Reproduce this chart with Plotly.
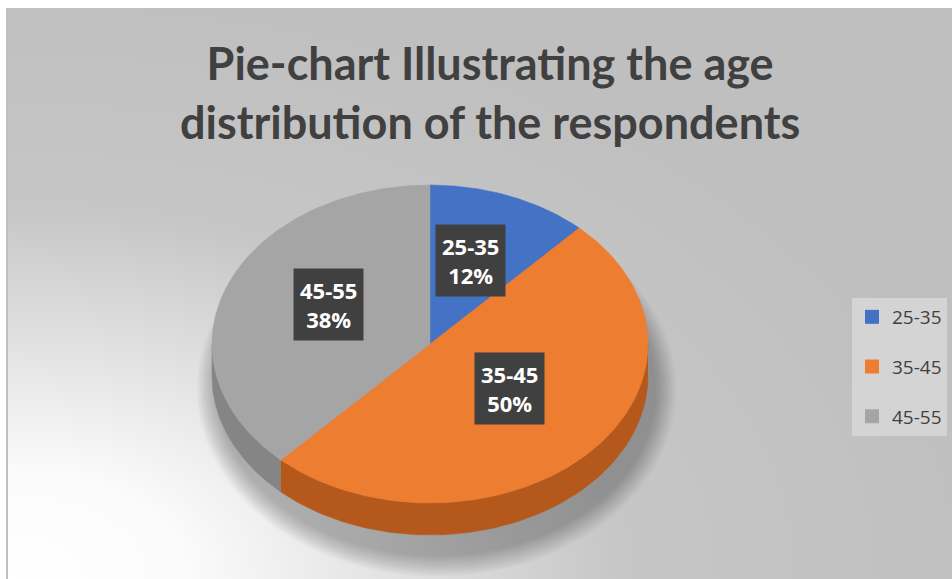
import numpy as np
import plotly.graph_objects as go
import base64

# ---- data ----
labels = ["25-35", "35-45", "45-55"]
values = [12, 50, 38]
colors = ["#4472c4", "#ed7d31", "#a5a5a5"]
side_colors = ["#2f5597", "#b5581c", "#858585"]
title_text = "Pie-chart Illustrating the age<br>distribution of the respondents"

# ---- geometry (style constants) ----
W, H = 952, 579
CX_PX, CY_PX, RX_PX = 430, 344, 218
RY = 159 / 218          # ellipse flattening (units of rx)
DEPTH = 32 / 218        # side thickness

x_range = [-CX_PX / RX_PX, (W - CX_PX) / RX_PX]
y_range = [(CY_PX - H) / RX_PX, CY_PX / RX_PX]

def ex(t):
    return np.sin(np.radians(t))

def ey(t):
    return RY * np.cos(np.radians(t))

fracs = np.array(values, dtype=float) / np.sum(values)
ends = np.cumsum(fracs) * 360
starts = ends - fracs * 360

fig = go.Figure()

# soft shadow under the pie
n_sh = 14
for k in range(n_sh):
    g = 1 - k / n_sh
    sx = 1.0 + 0.10 * g
    sy = 0.76 + 0.10 * g
    tt = np.linspace(0, 360, 200)
    fig.add_trace(go.Scatter(
        x=sx * ex(tt) + 0.03, y=(sy / RY) * ey(tt) - DEPTH - 0.06,
        fill="toself", mode="lines", line=dict(width=0),
        fillcolor="rgba(0,0,0,0.018)", hoverinfo="skip", showlegend=False))

# sides (visible front half: t in [90, 270])
for lab, s, e, sc in zip(labels, starts, ends, side_colors):
    a0, a1 = max(s, 90), min(e, 270)
    if a1 <= a0:
        continue
    tt = np.linspace(a0, a1, 120)
    xs = np.concatenate([ex(tt), ex(tt[::-1])])
    ys = np.concatenate([ey(tt), ey(tt[::-1]) - DEPTH])
    fig.add_trace(go.Scatter(x=xs, y=ys, fill="toself", mode="lines",
                             line=dict(width=0.5, color=sc), fillcolor=sc,
                             hoverinfo="skip", showlegend=False))

# top faces
for lab, v, s, e, c in zip(labels, values, starts, ends, colors):
    tt = np.linspace(s, e, 150)
    xs = np.concatenate([[0], ex(tt), [0]])
    ys = np.concatenate([[0], ey(tt), [0]])
    fig.add_trace(go.Scatter(x=xs, y=ys, fill="toself", mode="lines",
                             line=dict(width=0.5, color=c), fillcolor=c,
                             name=lab, hoverinfo="text",
                             text=f"{lab}: {v}%", showlegend=False))

# legend entries
for lab, c in zip(labels, colors):
    fig.add_trace(go.Scatter(x=[None], y=[None], mode="markers", name=lab,
                             legendgroup=lab,
                             marker=dict(symbol="square", size=14, color=c)))

# data labels
for lab, v, s, e in zip(labels, values, starts, ends):
    m = (s + e) / 2
    fig.add_annotation(x=0.5 * ex(m), y=0.5 * ey(m), yshift=10,
                       text=f"<b>{lab}<br>{v}%</b>", showarrow=False,
                       font=dict(family="Open Sans", size=22, color="white"),
                       bgcolor="#404040", borderpad=6, align="center")

# title
fig.add_annotation(xref="paper", yref="paper", x=490 / W, y=1 - 34 / H,
                   xanchor="center", yanchor="top", showarrow=False,
                   text=f"<b>{title_text}</b>", align="center",
                   font=dict(family="Lato", size=45, color="#404040"))

# gradient background image
svg = f'''<svg xmlns="http://www.w3.org/2000/svg" width="{W}" height="{H}">
<defs><radialGradient id="g" cx="0" cy="1" r="1.05" gradientUnits="objectBoundingBox">
<stop offset="0" stop-color="#ffffff"/><stop offset="0.18" stop-color="#fbfbfb"/>
<stop offset="0.62" stop-color="#c6c6c6"/><stop offset="1" stop-color="#bfbfbf"/>
</radialGradient></defs>
<rect width="100%" height="100%" fill="url(#g)"/></svg>'''
src = "data:image/svg+xml;base64," + base64.b64encode(svg.encode()).decode()
fig.add_layout_image(dict(source=src, xref="paper", yref="paper",
                          x=8 / W, y=1 - 8 / H, sizex=1 - 8 / W, sizey=1 - 8 / H,
                          xanchor="left", yanchor="top", sizing="stretch",
                          layer="below"))
fig.add_shape(type="line", xref="paper", yref="paper", x0=7 / W, x1=7 / W,
              y0=0, y1=1 - 8 / H, line=dict(color="#c0c0c0", width=2))

fig.update_layout(
    width=W, height=H,
    margin=dict(l=0, r=0, t=0, b=0),
    paper_bgcolor="white", plot_bgcolor="rgba(0,0,0,0)",
    xaxis=dict(range=x_range, visible=False, fixedrange=True),
    yaxis=dict(range=y_range, visible=False, fixedrange=True),
    legend=dict(x=852 / W, y=1 - 298 / H, xanchor="left", yanchor="top",
                bgcolor="#d4d4d4", font=dict(family="Open Sans", size=19, color="#404040"),
                tracegroupgap=22, itemwidth=30),
    showlegend=True,
)

fig.write_html("out.html")
